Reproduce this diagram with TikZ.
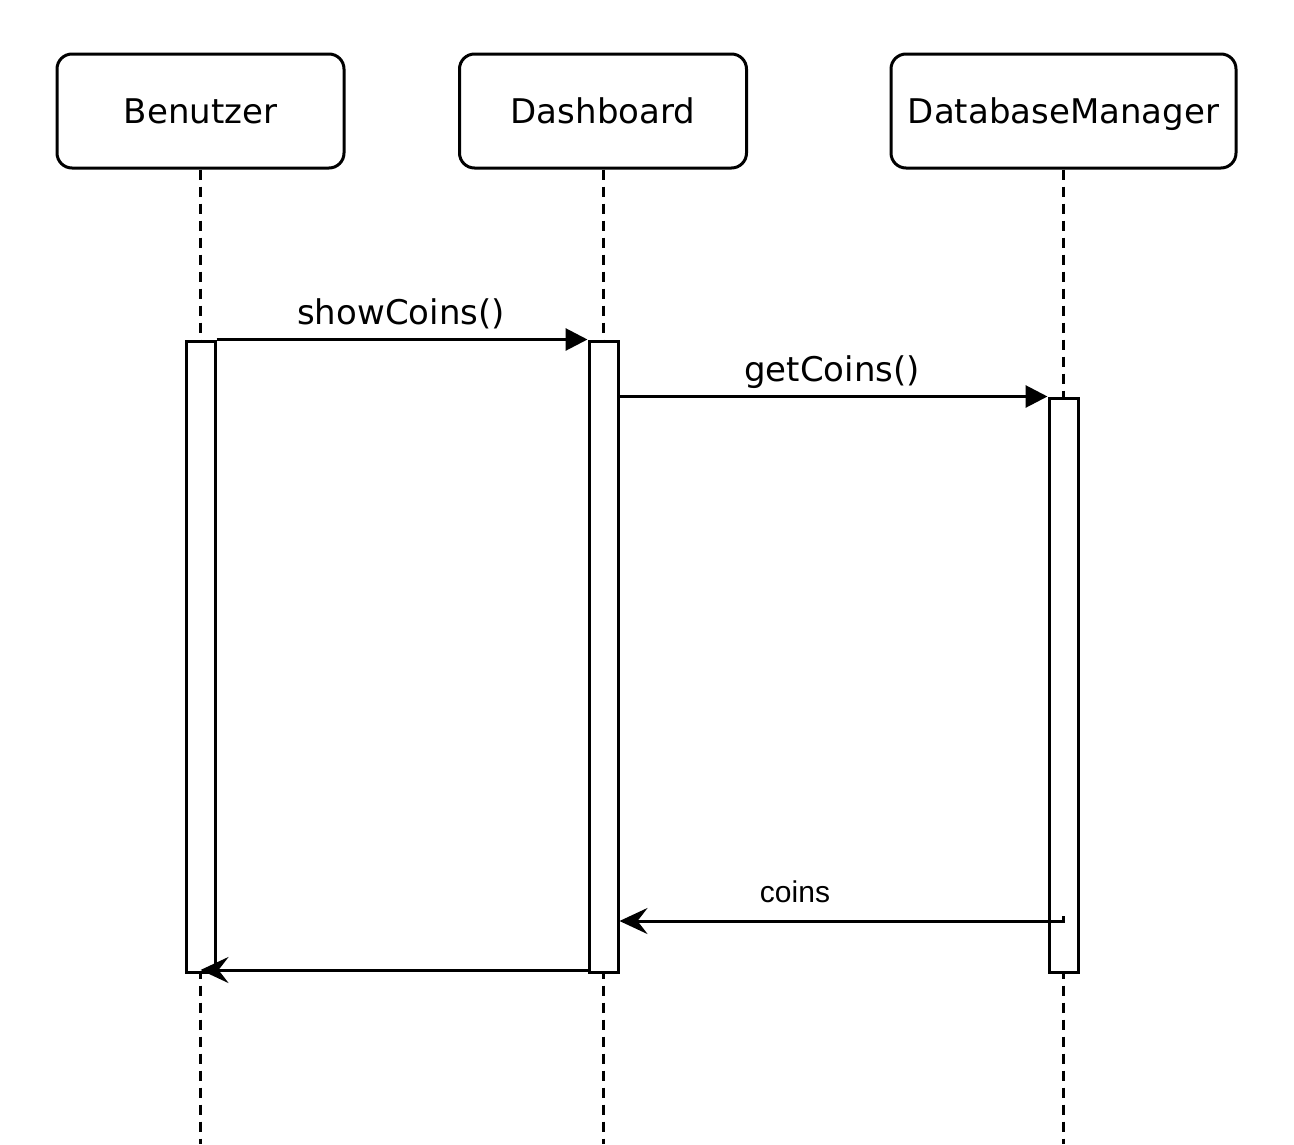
\documentclass[tikz,border=0pt]{standalone}
\usepackage{fontspec}
\setmainfont{DejaVu Sans}
\newfontfamily\arialfont{Liberation Sans}
\usetikzlibrary{arrows.meta}

\tikzset{
  actor/.style={draw, line width=3pt, rounded corners=15pt, minimum width=287pt,
    minimum height=114pt, inner sep=0pt, text height=28pt, text depth=4pt,
    font=\fontsize{34}{40}\selectfont},
  lifeline/.style={line width=3pt, dash pattern=on 10pt off 7pt},
  activation/.style={draw, fill=white, line width=3pt, minimum width=29pt, inner sep=0pt},
  call/.style={line width=3pt, -{Triangle[length=22pt,width=22pt]}},
  reply/.style={line width=3pt, -{Stealth[length=28pt,width=26pt,inset=10pt]}},
  msg/.style={font=\fontsize{34}{40}\selectfont},
}

\begin{document}
\begin{tikzpicture}[x=1pt,y=-1pt]
\useasboundingbox (0,0) rectangle (1294,1144);

% participants
\node[actor] (benutzer) at (200.5,111) {Benutzer};
\node[actor] (dashboard) at (603,111) {Dashboard};
\node[actor, minimum width=345pt] (dbmanager) at (1063.5,111) {DatabaseManager};

% lifelines
\foreach \p in {benutzer,dashboard,dbmanager}{
  \coordinate (\p-end) at (\p.south |- 0,1144);
  \draw[lifeline] (\p.south) -- (\p-end);
}

% activation bars
\node[activation, minimum height=631pt] (actU) at (200.5,656.5) {};
\node[activation, minimum height=631pt] (actD) at (603.5,656.5) {};
\node[activation, minimum height=574pt] (actDB) at (1063.5,685) {};

% messages
\draw[call] (actU.north east) -- (actD.north west);
\node[msg] (lblShow) at (401,314) {showCoins()};

\draw[call] (actDB.north west -| actD.east) -- (actDB.north west);
\node[msg] (lblGet) at (832,372) {getCoins()};

\coordinate (coinsStart) at (1063,916);
\draw[reply] (coinsStart) -- ++(0,5) -- (actD.east |- 0,921);
\node[font=\arialfont\fontsize{30}{36}\selectfont] (lblCoins) at (795,892) {coins};

\draw[reply] (actD.south west |- 0,970) -- (actU.south |- 0,970);
\end{tikzpicture}
\end{document}
